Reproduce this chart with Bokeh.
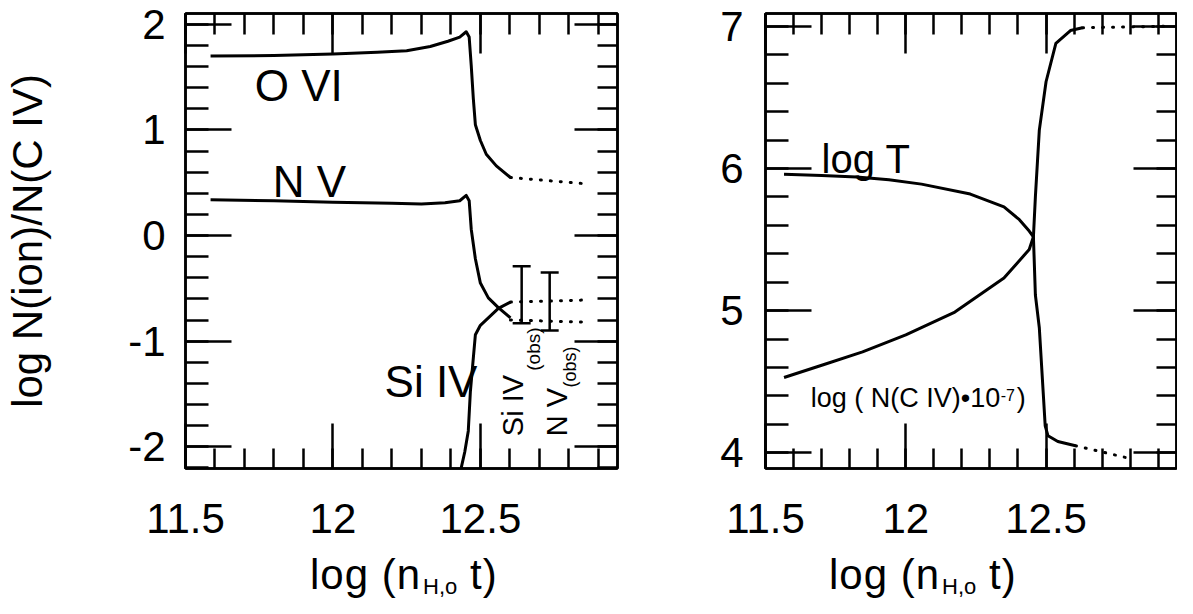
import math
from bokeh.plotting import figure
from bokeh.models import (LinearAxis, SingleIntervalTicker, Label, Whisker, TeeHead,
                          ColumnDataSource, Range1d, Div)
from bokeh.layouts import row, column
from bokeh.embed import file_html
from bokeh.resources import INLINE

FONT = "Liberation Sans"

# ---------------- tick labels ----------------
X_TICKS = [11.5, 12, 12.5]
X_TICK_LABELS = ["11.5", "12", "12.5"]
L_Y_TICKS = [-2, -1, 0, 1, 2]
L_Y_TICK_LABELS = ["-2", "-1", "0", "1", "2"]
R_Y_TICKS = [4, 5, 6, 7]
R_Y_TICK_LABELS = ["4", "5", "6", "7"]

# ---------------- left panel: log N(ion)/N(C IV) ----------------
OVI_X = [11.585, 11.8, 12.0, 12.15, 12.25, 12.33, 12.39, 12.43, 12.452, 12.462, 12.469,
         12.476, 12.483, 12.5, 12.52, 12.554, 12.602]
OVI_Y = [1.70, 1.705, 1.72, 1.735, 1.75, 1.79, 1.84, 1.88, 1.93, 1.88, 1.61,
         1.30, 1.05, 0.90, 0.77, 0.66, 0.55]
OVI_DOT_X = [12.602, 12.86]
OVI_DOT_Y = [0.55, 0.49]

NV_X = [11.585, 11.8, 12.0, 12.2, 12.3, 12.38, 12.43, 12.452, 12.462, 12.469, 12.476,
        12.483, 12.5, 12.527, 12.56, 12.602]
NV_Y = [0.34, 0.33, 0.315, 0.305, 0.30, 0.31, 0.33, 0.38, 0.33, 0.06, -0.08,
        -0.22, -0.45, -0.59, -0.68, -0.78]
NV_DOT_X = [12.602, 12.86]
NV_DOT_Y = [-0.80, -0.82]

SIIV_X = [12.435, 12.447, 12.459, 12.466, 12.476, 12.483, 12.5, 12.527, 12.561, 12.602]
SIIV_Y = [-2.2, -2.05, -1.85, -1.48, -1.16, -0.94, -0.85, -0.78, -0.69, -0.63]
SIIV_DOT_X = [12.602, 12.86]
SIIV_DOT_Y = [-0.63, -0.61]

OBS_X = [12.64, 12.735]          # Si IV(obs), N V(obs)
OBS_LOW = [-0.83, -0.90]
OBS_HIGH = [-0.29, -0.35]

# ---------------- right panel ----------------
LOGT_X = [11.566, 11.7, 11.825, 11.94, 12.056, 12.23, 12.35, 12.405, 12.44, 12.455,
          12.462, 12.476, 12.49, 12.497, 12.507, 12.542, 12.605]
LOGT_Y = [5.96, 5.95, 5.94, 5.92, 5.89, 5.82, 5.73, 5.64, 5.56, 5.52,
          5.11, 4.88, 4.42, 4.19, 4.12, 4.08, 4.05]
LOGT_DOT_X = [12.605, 12.80]
LOGT_DOT_Y = [4.05, 3.96]

CIV_X = [11.566, 11.706, 11.846, 12.0, 12.175, 12.35, 12.44, 12.455, 12.462, 12.476,
         12.5, 12.535, 12.587, 12.63]
CIV_Y = [4.53, 4.62, 4.71, 4.83, 4.99, 5.23, 5.43, 5.52, 5.80, 6.27,
         6.61, 6.88, 6.97, 6.99]
CIV_DOT_X = [12.63, 12.93]
CIV_DOT_Y = [6.99, 7.0]

X_RANGE = (11.5, 12.965)
L_Y_RANGE = (-2.206, 2.103)
R_Y_RANGE = (3.89, 7.09)

LW = 2.5          # frame and ticks
CW = 3            # curves
TOP_H = 551
STRIP_H = 47


def style_axis(ax, ticker, overrides, labels=True, major_in=45, minor_in=22, standoff=20):
    ax.ticker = ticker
    ax.axis_line_width = LW
    ax.axis_line_color = "black"
    ax.major_tick_in = major_in
    ax.major_tick_out = 0
    ax.minor_tick_in = minor_in
    ax.minor_tick_out = 0
    ax.major_tick_line_width = LW
    ax.minor_tick_line_width = LW
    ax.major_tick_line_color = "black"
    ax.minor_tick_line_color = "black"
    if labels:
        ax.major_label_overrides = overrides
        ax.major_label_text_font = FONT
        ax.major_label_text_font_size = "42px"
        ax.major_label_text_color = "black"
        ax.major_label_standoff = standoff
    else:
        ax.major_label_overrides = {k: "" for k in overrides}
        ax.major_label_text_font_size = "0px"
        ax.major_label_standoff = 0


def make_fig(width, yr, mbl, mbr, y_ticks, y_labels, y_standoff):
    p = figure(width=width, height=TOP_H, x_range=Range1d(*X_RANGE), y_range=Range1d(*yr),
               output_backend="svg", toolbar_location=None,
               min_border_left=mbl, min_border_right=mbr,
               min_border_top=13, min_border_bottom=TOP_H - 13 - 455)
    p.grid.visible = False
    p.background_fill_color = "white"
    p.border_fill_color = "white"
    p.outline_line_color = "black"
    p.outline_line_width = LW
    xo = dict(zip(X_TICKS, X_TICK_LABELS))
    yo = dict(zip(y_ticks, y_labels))
    style_axis(p.xaxis[0], SingleIntervalTicker(interval=0.5, num_minor_ticks=5), xo,
               labels=True, major_in=45, minor_in=20, standoff=35)
    style_axis(p.yaxis[0], SingleIntervalTicker(interval=1, num_minor_ticks=5), yo,
               labels=True, major_in=46, minor_in=23, standoff=y_standoff)
    top = LinearAxis()
    style_axis(top, SingleIntervalTicker(interval=0.5, num_minor_ticks=5), xo,
               labels=False, major_in=40, minor_in=21)
    p.add_layout(top, "above")
    right = LinearAxis()
    style_axis(right, SingleIntervalTicker(interval=1, num_minor_ticks=5), yo,
               labels=False, major_in=43, minor_in=20)
    p.add_layout(right, "right")
    return p


def solid(p, x, y):
    p.line(x, y, line_width=CW, line_color="black", line_join="round")


def dotted(p, x, y):
    p.line(x, y, line_width=3, line_color="black", line_dash="1 9", line_cap="round")


def label(p, text, x, y, size, rot=False, x_offset=0.0, y_offset=0.0):
    # Label's default 'bottom' baseline puts the glyph baseline ~0.27 em above
    # the anchor; shift so that (x, y) is the baseline start.
    k = 0.27 * size
    if rot:
        x_offset += k
    else:
        y_offset -= k
    p.add_layout(Label(x=x, y=y, text=text, text_font=FONT, text_font_size=f"{size}px",
                       text_color="black", angle=(math.pi / 2 if rot else 0.0),
                       x_offset=x_offset, y_offset=y_offset))


def xtitle(width, left):
    """x-axis title 'log (n_H,o t)' as real HTML text with a true subscript."""
    html = (
        f'<div style="margin-left:{left}px; font-family:\'{FONT}\'; font-size:42px; '
        f'line-height:{STRIP_H}px; height:{STRIP_H}px; white-space:nowrap; color:#000; '
        'letter-spacing:1px;">'
        'log (n<span style="font-size:22px; line-height:1; position:relative; top:5px; '
        'margin-left:2px; letter-spacing:0px;">H,o</span>&nbsp;t)</div>'
    )
    return Div(text=html, width=width, height=STRIP_H, margin=(0, 0, 0, 0))


# ---------------- left figure ----------------
p1 = make_fig(705, L_Y_RANGE, 185, 88, L_Y_TICKS, L_Y_TICK_LABELS, 20)
p1.yaxis[0].axis_label = "log N(ion)/N(C IV)"
p1.yaxis[0].axis_label_text_font = FONT
p1.yaxis[0].axis_label_text_font_size = "42px"
p1.yaxis[0].axis_label_text_font_style = "normal"
p1.yaxis[0].axis_label_text_color = "black"
p1.yaxis[0].axis_label_standoff = 74

solid(p1, OVI_X, OVI_Y)
dotted(p1, OVI_DOT_X, OVI_DOT_Y)
solid(p1, NV_X, NV_Y)
dotted(p1, NV_DOT_X, NV_DOT_Y)
solid(p1, SIIV_X, SIIV_Y)
dotted(p1, SIIV_DOT_X, SIIV_DOT_Y)

src = ColumnDataSource(dict(x=OBS_X, lower=OBS_LOW, upper=OBS_HIGH))
p1.add_layout(Whisker(source=src, base="x", lower="lower", upper="upper", dimension="height",
                      line_width=LW, line_color="black",
                      upper_head=TeeHead(size=18, line_width=LW, line_color="black"),
                      lower_head=TeeHead(size=18, line_width=LW, line_color="black")))

label(p1, "O VI", 11.735, 1.30, 44)
label(p1, "N V", 11.796, 0.393, 44)
label(p1, "Si IV", 12.175, -1.50, 44)

label(p1, "Si IV", 12.64, -1.90, 29, rot=True)
label(p1, "(obs)", 12.70, -1.28, 19, rot=True)
label(p1, "N V", 12.789, -1.90, 29, rot=True)
label(p1, "(obs)", 12.821, -1.44, 18, rot=True)

# ---------------- right figure ----------------
p2 = make_fig(472, R_Y_RANGE, 60, 1, R_Y_TICKS, R_Y_TICK_LABELS, 22)

solid(p2, LOGT_X, LOGT_Y)
dotted(p2, LOGT_DOT_X, LOGT_DOT_Y)
solid(p2, CIV_X, CIV_Y)
dotted(p2, CIV_DOT_X, CIV_DOT_Y)

label(p2, "log T", 11.70, 5.99, 40)
label(p2, "log ( N(C IV)\u202210", 11.661, 4.332, 27)
label(p2, "-7", 11.661, 4.332, 16, x_offset=190, y_offset=9)
label(p2, " )", 11.661, 4.332, 27, x_offset=206)

t1 = xtitle(705, 310)
t2 = xtitle(472, 124)

layout = column(row(p1, p2), row(t1, t2))
open("out.html", "w").write(file_html(layout, INLINE))
